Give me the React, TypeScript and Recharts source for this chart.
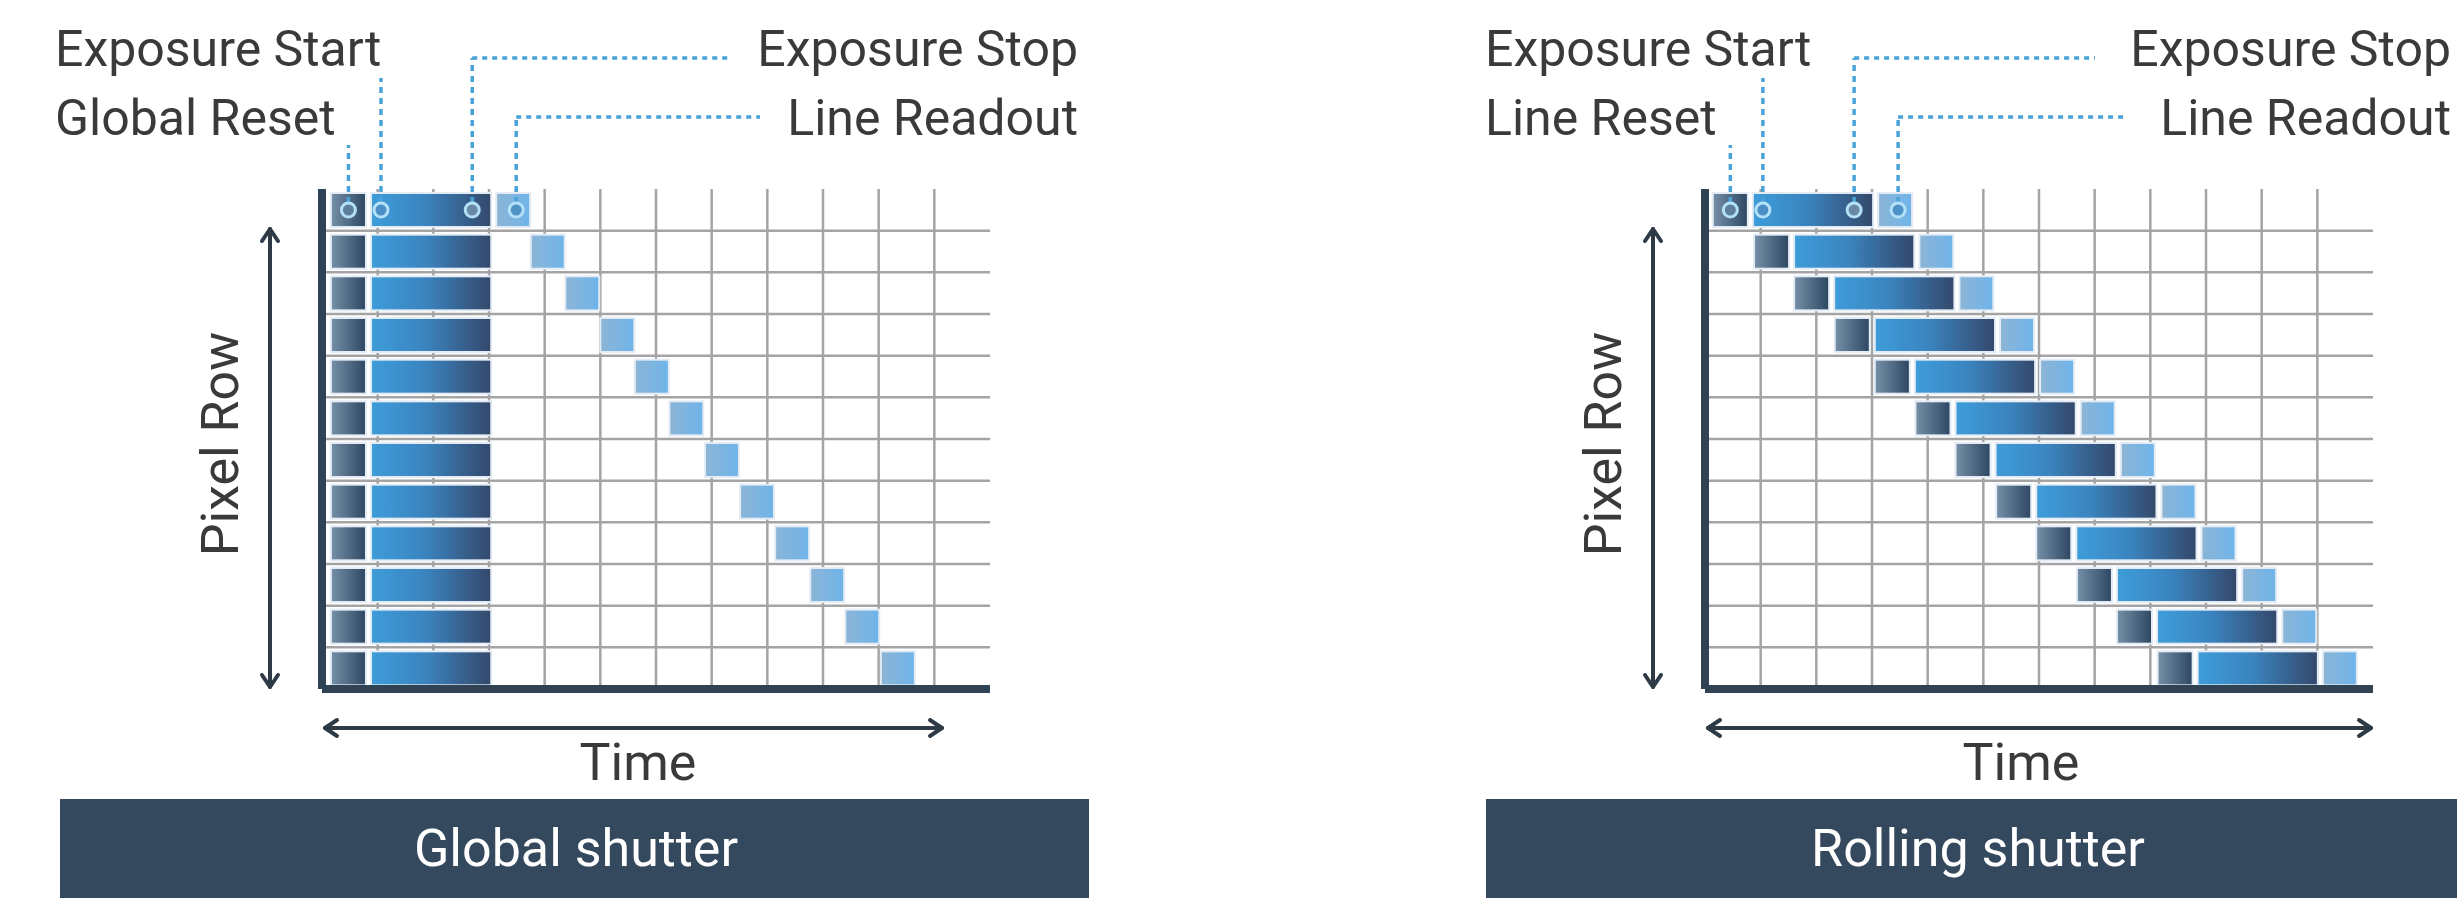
import React from 'react'
import { BarChart, Bar, XAxis, YAxis, CartesianGrid } from 'recharts'

// pixel rows, top to bottom; row 0 carries the markers
const ROWS = [0, 1, 2, 3, 4, 5, 6, 7, 8, 9, 10, 11]
// grid columns on the time axis
const TIME_TICKS = [0, 1, 2, 3, 4, 5, 6, 7, 8, 9, 10, 11]
const TIME_MAX = 12

// phase lengths, in grid columns
const RESET_LEN = 0.63
const EXPOSURE_LEN = 2.16
const READOUT_LEN = 0.61

const GLOBAL_RESET_START = [0.16, 0.16, 0.16, 0.16, 0.16, 0.16, 0.16, 0.16, 0.16, 0.16, 0.16, 0.16]
const GLOBAL_EXPOSURE_START = [0.88, 0.88, 0.88, 0.88, 0.88, 0.88, 0.88, 0.88, 0.88, 0.88, 0.88, 0.88]
const GLOBAL_READOUT_START = [3.13, 3.75, 4.37, 5.0, 5.62, 6.24, 6.88, 7.51, 8.14, 8.77, 9.4, 10.04]

const ROLLING_RESET_START = [0.14, 0.88, 1.6, 2.33, 3.05, 3.78, 4.5, 5.23, 5.95, 6.68, 7.4, 8.13]
const ROLLING_EXPOSURE_START = [0.86, 1.6, 2.32, 3.05, 3.77, 4.5, 5.22, 5.95, 6.67, 7.4, 8.12, 8.85]
const ROLLING_READOUT_START = [3.11, 3.85, 4.57, 5.3, 6.02, 6.75, 7.47, 8.2, 8.92, 9.65, 10.37, 11.1]

const W = 1200
const H = 898
// axes take 1px each, so the plot area starts at x 322 and ends at y 689
const MARGIN = { top: 189, right: 210, bottom: 208, left: 321 }

const AXIS = '#2f4354'
const GRID = '#a4a4a4'
const EDGE = '#e3ecf4'
const DOT = '#4aa3d6'
const TEXT = '#3a3a3a'
const BANNER = '#35495e'

function buildRows(resetStart: number[], exposureStart: number[], readoutStart: number[]) {
  return ROWS.map((row, i) => ({
    row,
    lead: resetStart[i],
    reset: RESET_LEN,
    gap1: exposureStart[i] - resetStart[i] - RESET_LEN,
    exposure: EXPOSURE_LEN,
    gap2: readoutStart[i] - exposureStart[i] - EXPOSURE_LEN,
    readout: READOUT_LEN,
  }))
}

interface PanelCfg {
  id: string
  left: number
  data: ReturnType<typeof buildRows>
  resetLabel: string
  labelX: number
  rightLabelX: number
  bannerX: number
  bannerW: number
  bannerText: string
  bannerTextX: number
  arrowEnd: number
  stopLineEnd: number
  readoutLineEnd: number
}

const R = 7

function Marker({ cx, cy, fill }: { cx: number; cy: number; fill: string }) {
  return <circle cx={cx} cy={cy} r={R} fill={fill} stroke="#b3e1f8" strokeWidth={3} />
}

function Leader({ x, y, toY, toX }: { x: number; y: number; toY: number; toX?: number }) {
  return (
    <g stroke={DOT} strokeWidth={3.5} fill="none">
      <line x1={x} y1={y} x2={x} y2={toY} strokeDasharray="6 5" />
      {toX !== undefined && <line x1={x} y1={toY} x2={toX} y2={toY} strokeDasharray="5 5" />}
    </g>
  )
}

// horizontal grid sits on the row boundaries, not on the band centres
const rowLines = (props: any) => {
  const { offset } = props
  return ROWS.slice(1).map((r) => offset.top + (offset.height * r) / ROWS.length)
}

// vertical grid on the time columns, skipping the axis itself
const timeLines = (props: any) => {
  const { offset, xAxis } = props
  const s = xAxis && xAxis.scale
  return TIME_TICKS.slice(1).map((t) =>
    typeof s === 'function' ? s(t) : offset.left + (offset.width * t) / TIME_MAX,
  )
}

function Panel({ cfg }: { cfg: PanelCfg }) {
  const g = cfg.id

  const resetShape = (p: any) => {
    const { x, y, width, height, payload } = p
    const cx = x + width / 2
    const cy = y + height / 2
    return (
      <g>
        <rect x={x} y={y} width={width} height={height} fill={`url(#${g}-reset)`} stroke={EDGE} strokeWidth={2} />
        {payload.row === 0 && (
          <>
            <Leader x={cx} y={cy - R} toY={145} />
            <Marker cx={cx} cy={cy} fill="#5e7f9c" />
          </>
        )}
      </g>
    )
  }

  const exposureShape = (p: any) => {
    const { x, y, width, height, payload } = p
    const cy = y + height / 2
    const a = x + 10
    const b = x + width - 19
    return (
      <g>
        <rect x={x} y={y} width={width} height={height} fill={`url(#${g}-exp)`} stroke={EDGE} strokeWidth={2} />
        {payload.row === 0 && (
          <>
            <Leader x={a} y={cy - R} toY={78} />
            <Leader x={b} y={cy - R} toY={58} toX={cfg.stopLineEnd} />
            <Marker cx={a} cy={cy} fill="#4d8fc4" />
            <Marker cx={b} cy={cy} fill="#6a89a6" />
          </>
        )}
      </g>
    )
  }

  const readoutShape = (p: any) => {
    const { x, y, width, height, payload } = p
    const cx = x + width / 2 + 3
    const cy = y + height / 2
    return (
      <g>
        <rect x={x} y={y} width={width} height={height} fill={`url(#${g}-read)`} stroke={EDGE} strokeWidth={2} />
        {payload.row === 0 && (
          <>
            <Leader x={cx} y={cy - R} toY={117} toX={cfg.readoutLineEnd} />
            <Marker cx={cx} cy={cy} fill="#4f93c6" />
          </>
        )}
      </g>
    )
  }

  return (
    <div style={{ position: 'absolute', left: cfg.left, top: 0, width: W, height: H }}>
      <BarChart
        layout="vertical"
        width={W}
        height={H}
        data={cfg.data}
        margin={MARGIN}
        barSize={34}
      >
        <defs>
          <linearGradient id={`${g}-reset`} x1="0" y1="0" x2="1" y2="0">
            <stop offset="0%" stopColor="#7690a8" />
            <stop offset="100%" stopColor="#2d4763" />
          </linearGradient>
          <linearGradient id={`${g}-exp`} x1="0" y1="0" x2="1" y2="0">
            <stop offset="0%" stopColor="#3e9dda" />
            <stop offset="45%" stopColor="#3a84bf" />
            <stop offset="100%" stopColor="#34486b" />
          </linearGradient>
          <linearGradient id={`${g}-read`} x1="0" y1="0" x2="1" y2="0">
            <stop offset="0%" stopColor="#8cb5d6" />
            <stop offset="100%" stopColor="#6fb4ea" />
          </linearGradient>
        </defs>
        <CartesianGrid
          stroke={GRID}
          strokeWidth={2.5}
          horizontalCoordinatesGenerator={rowLines}
          verticalCoordinatesGenerator={timeLines}
        />
        <XAxis
          type="number"
          domain={[0, TIME_MAX]}
          ticks={TIME_TICKS}
          height={1}
          tick={false}
          tickLine={false}
          axisLine={{ stroke: AXIS, strokeWidth: 8 }}
        />
        <YAxis
          type="category"
          dataKey="row"
          width={1}
          tick={false}
          tickLine={false}
          axisLine={{ stroke: AXIS, strokeWidth: 8 }}
        />
        <Bar dataKey="lead" stackId="t" fill="transparent" isAnimationActive={false} />
        <Bar dataKey="reset" stackId="t" shape={resetShape} isAnimationActive={false} />
        <Bar dataKey="gap1" stackId="t" fill="transparent" isAnimationActive={false} />
        <Bar dataKey="exposure" stackId="t" shape={exposureShape} isAnimationActive={false} />
        <Bar dataKey="gap2" stackId="t" fill="transparent" isAnimationActive={false} />
        <Bar dataKey="readout" stackId="t" shape={readoutShape} isAnimationActive={false} />
      </BarChart>

      <svg
        width={W}
        height={H}
        style={{ position: 'absolute', left: 0, top: 0, pointerEvents: 'none' }}
        fontFamily="Roboto, sans-serif"
      >
        <text x={cfg.labelX} y={66} fontSize={50} fill={TEXT}>Exposure Start</text>
        <text x={cfg.labelX} y={135} fontSize={50} fill={TEXT}>{cfg.resetLabel}</text>
        <text x={cfg.rightLabelX} y={66} fontSize={50} fill={TEXT} textAnchor="end">Exposure Stop</text>
        <text x={cfg.rightLabelX} y={135} fontSize={50} fill={TEXT} textAnchor="end">Line Readout</text>

        {/* Pixel Row */}
        <text
          transform="translate(238,444) rotate(-90)"
          fontSize={52}
          fill={TEXT}
          textAnchor="middle"
        >
          Pixel Row
        </text>
        <g stroke="#2e3a46" strokeWidth={4} fill="none" strokeLinecap="round" strokeLinejoin="round">
          <line x1={270} y1={229} x2={270} y2={687} />
          <polyline points="262,241 270,229 278,241" />
          <polyline points="262,675 270,687 278,675" />

          <line x1={325} y1={728} x2={cfg.arrowEnd} y2={728} />
          <polyline points={`337,720 325,728 337,736`} />
          <polyline points={`${cfg.arrowEnd - 12},720 ${cfg.arrowEnd},728 ${cfg.arrowEnd - 12},736`} />
        </g>
        <text x={638} y={780} fontSize={52} fill={TEXT} textAnchor="middle">Time</text>

        <rect x={cfg.bannerX} y={799} width={cfg.bannerW} height={H - 799} fill={BANNER} />
        <text x={cfg.bannerTextX} y={866} fontSize={52} fill="#ffffff" textAnchor="middle">
          {cfg.bannerText}
        </text>
      </svg>
    </div>
  )
}

const PANELS: PanelCfg[] = [
  {
    id: 'gs',
    left: 0,
    data: buildRows(GLOBAL_RESET_START, GLOBAL_EXPOSURE_START, GLOBAL_READOUT_START),
    resetLabel: 'Global Reset',
    labelX: 55,
    rightLabelX: 1078,
    bannerX: 60,
    bannerW: 1029,
    bannerText: 'Global shutter',
    bannerTextX: 576,
    arrowEnd: 942,
    stopLineEnd: 729,
    readoutLineEnd: 760,
  },
  {
    id: 'rs',
    left: 1383,
    data: buildRows(ROLLING_RESET_START, ROLLING_EXPOSURE_START, ROLLING_READOUT_START),
    resetLabel: 'Line Reset',
    labelX: 102,
    rightLabelX: 1068,
    bannerX: 103,
    bannerW: 1100,
    bannerText: 'Rolling shutter',
    bannerTextX: 595,
    arrowEnd: 988,
    stopLineEnd: 712,
    readoutLineEnd: 740,
  },
]

export default function App() {
  return (
    <div
      style={{
        position: 'absolute',
        left: 0,
        top: 0,
        width: 2457,
        height: 898,
        overflow: 'hidden',
        background: '#ffffff',
      }}
    >
      {PANELS.map((p) => (
        <Panel key={p.id} cfg={p} />
      ))}
    </div>
  )
}
